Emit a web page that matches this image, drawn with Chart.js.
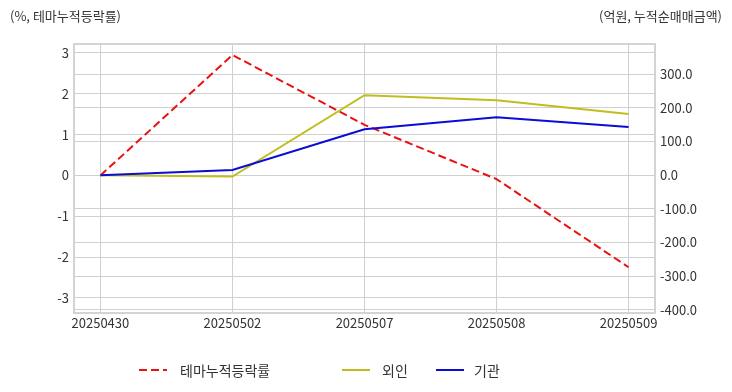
<!DOCTYPE html>
<html>
<head>
<meta charset="utf-8">
<script src="https://cdn.jsdelivr.net/npm/chart.js@4.4.1/dist/chart.umd.min.js"></script>
<style>
  body { margin: 0; background: #fff; font-family: "Noto Sans CJK KR", "Noto Sans", sans-serif; color: #333; }
  #wrap { position: relative; width: 732px; height: 392px; }
  .ttl { position: absolute; top: 6px; font-size: 13px; white-space: nowrap; }
  .lg { position: absolute; top: 360px; font-size: 14px; white-space: nowrap; line-height: 20px; }
  .lg svg { position: absolute; top: 0; }
</style>
</head>
<body>
<div id="wrap">
  <canvas id="chart" width="732" height="392"></canvas>
  <div class="ttl" style="left:10px">(%, 테마누적등락률)</div>
  <div class="ttl" style="right:10px">(억원, 누적순매매금액)</div>
  <div id="legend"></div>
</div>
<script>
// data
const dates = ["20250430", "20250502", "20250507", "20250508", "20250509"];
const themeRate = [0, 2.95, 1.24, -0.09, -2.25];   // %, left axis
const foreign = [0, -4, 237, 222, 181];             // 억원, right axis
const institution = [0, 15, 136, 172, 143];         // 억원, right axis
const leftTicks = [-3, -2, -1, 0, 1, 2, 3];
const rightTicks = [-400, -300, -200, -100, 0, 100, 200, 300];

const gridColor = "#d0d0d0";
const tickFont = { family: "'Noto Sans CJK KR', 'Noto Sans', sans-serif", size: 13 };

function points(values) {
  return values.map((v, i) => ({ x: i, y: v }));
}

// light gray frame round the plot area
const framePlugin = {
  id: "frame",
  beforeDatasetsDraw(chart) {
    const a = chart.chartArea;
    const ctx = chart.ctx;
    ctx.save();
    ctx.strokeStyle = "#d4d4d4";
    ctx.lineWidth = 2;
    ctx.strokeRect(a.left, a.top, a.right - a.left, a.bottom - a.top);
    ctx.restore();
  },
};

const series = [
  { label: "테마누적등락률", data: themeRate, color: "rgb(232,18,18)", axis: "y", dash: [8, 4], order: 3 },
  { label: "외인", data: foreign, color: "rgb(192,190,30)", axis: "y1", dash: [], order: 2 },
  { label: "기관", data: institution, color: "rgb(12,12,212)", axis: "y1", dash: [], order: 1 },
];

const ctx = document.getElementById("chart").getContext("2d");
const chart = new Chart(ctx, {
  type: "line",
  data: {
    datasets: series.map((s) => ({
      label: s.label,
      data: points(s.data),
      borderColor: s.color,
      backgroundColor: s.color,
      borderWidth: 2,
      borderDash: s.dash,
      pointRadius: 0,
      tension: 0,
      yAxisID: s.axis,
      order: s.order,
    })),
  },
  options: {
    responsive: false,
    animation: false,
    layout: { padding: { top: 44, left: 0, right: 0, bottom: 0 } },
    plugins: { legend: { display: false }, tooltip: { enabled: false } },
    scales: {
      x: {
        type: "linear",
        min: -0.2,
        max: 4.2,
        afterBuildTicks: (s) => { s.ticks = dates.map((_, i) => ({ value: i })); },
        afterFit: (s) => { s.height = 79; },
        ticks: {
          callback: (v) => dates[v],
          font: tickFont,
          color: "#333",
          padding: 2,
          maxRotation: 0,
          autoSkip: false,
        },
        grid: { color: gridColor, drawTicks: false },
        border: { display: false },
      },
      y: {
        position: "left",
        min: -3.37,
        max: 3.22,
        afterBuildTicks: (s) => { s.ticks = leftTicks.map((v) => ({ value: v })); },
        afterFit: (s) => { s.width = 74; },
        ticks: { font: tickFont, color: "#333", padding: 5, callback: (v) => String(v) },
        grid: { color: gridColor, drawTicks: false },
        border: { display: false },
      },
      y1: {
        position: "right",
        min: -409,
        max: 389,
        afterBuildTicks: (s) => { s.ticks = rightTicks.map((v) => ({ value: v })); },
        afterFit: (s) => { s.width = 77; },
        ticks: { font: tickFont, color: "#333", padding: 5, callback: (v) => v.toFixed(1) },
        grid: { color: gridColor, drawTicks: false },
        border: { display: false },
      },
    },
  },
  plugins: [framePlugin],
});

// legend below the chart
const legendPos = [
  { line: 139, text: 180 },
  { line: 342, text: 382 },
  { line: 436, text: 474 },
];
const legend = document.getElementById("legend");
series.forEach((s, i) => {
  const p = legendPos[i];
  const item = document.createElement("div");
  item.className = "lg";
  item.style.left = p.line + "px";
  item.innerHTML =
    `<svg width="28" height="20"><line x1="0" y1="10" x2="28" y2="10" stroke="${s.color}" stroke-width="2" stroke-dasharray="${s.dash.join(",")}"/></svg>` +
    `<span style="position:absolute;left:${p.text - p.line}px">${s.label}</span>`;
  legend.appendChild(item);
});
</script>
</body>
</html>
